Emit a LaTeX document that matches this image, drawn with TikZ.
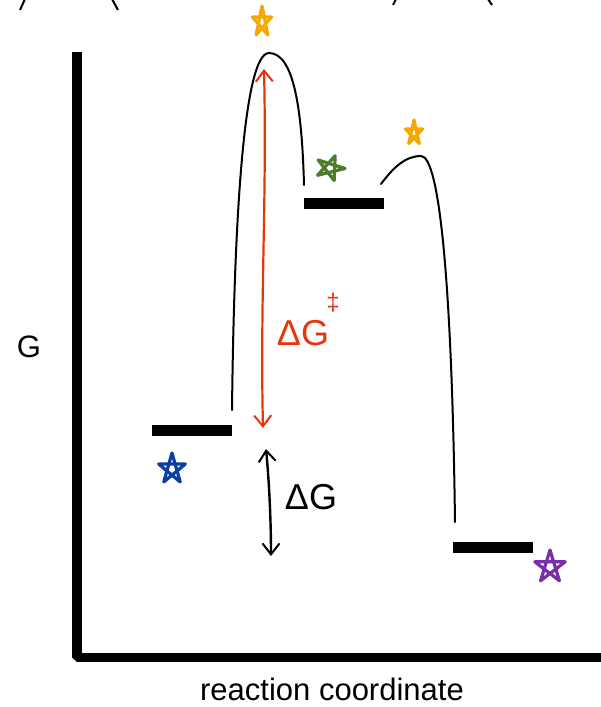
\documentclass[tikz,border=0pt]{standalone}
\usepackage{fontspec}
\setmainfont{Liberation Sans}
\usetikzlibrary{arrows.meta}
\definecolor{starorange}{HTML}{F6A800}
\definecolor{stargreen}{HTML}{4E7D2A}
\definecolor{starblue}{HTML}{0B3FA6}
\definecolor{starpurple}{HTML}{7A2FA8}
\definecolor{arrred}{HTML}{E8340C}
\tikzset{
  barb/.tip={Straight Barb[length=11pt, width=17pt, line width=2pt]},
  bar/.style={fill=black, draw=none, minimum width=80pt, minimum height=10.5pt, inner sep=0pt},
  curve/.style={line width=2pt, line cap=round},
  axis/.style={line width=9.5pt, line join=bevel},
  redarr/.style={draw=arrred, line width=2.2pt, line cap=round, barb-barb},
  blackarr/.style={draw=black, line width=2.4pt, line cap=round, barb-barb},
  hstar/.pic={\draw[line width=3.2pt, line join=round, line cap=round]
     (270:1) -- (54:1) -- (198:1) -- (342:1) -- (126:1) -- cycle;},
  lab/.style={inner sep=0pt, font=\fontsize{36}{40}\selectfont},
  axlab/.style={inner sep=0pt, font=\fontsize{31}{36}\selectfont},
  frag/.style={line width=2pt}
}
\begin{document}
\begin{tikzpicture}[x=1pt, y=-1pt]
\useasboundingbox (0,0) rectangle (601,707);
% fragments at top edge
\coordinate (f1a) at (20,10); \coordinate (f1b) at (25,-1);
\coordinate (f2a) at (112,-1); \coordinate (f2b) at (118,10);
\coordinate (f3a) at (393,5); \coordinate (f3b) at (396,-1);
\coordinate (f4a) at (488,-1); \coordinate (f4b) at (492,5);
\draw[frag] (f1a) -- (f1b);
\draw[frag] (f2a) -- (f2b);
\draw[frag] (f3a) -- (f3b);
\draw[frag] (f4a) -- (f4b);
% axes
\coordinate (ytop) at (77,52);
\coordinate (orig) at (77,657.5);
\coordinate (xend) at (605,657.5);
\draw[axis] (ytop) -- (orig) -- (xend);
\node[axlab] (G) at (29,347) {G};
\node[axlab] (rc) at (332,689) {reaction coordinate};
% levels
\node[bar] (A) at (192,430.5) {};
\node[bar] (I) at (344,203.5) {};
\node[bar] (P) at (493,547.5) {};
% energy curves
\coordinate (c1s) at (232,410);
\coordinate (c1p) at (269,53);
\coordinate (c1e) at (304,185);
\draw[curve] (c1s) .. controls (234,230) and (243,53) .. (c1p)
  .. controls (294,53) and (302,110) .. (c1e);
\coordinate (c2s) at (381,184);
\coordinate (c2p) at (421,156);
\coordinate (c2e) at (455,522);
\draw[curve] (c2s) .. controls (393,168) and (405,156) .. (c2p)
  .. controls (440,156) and (452,290) .. (c2e);
% red activation arrow
\coordinate (rt) at (264,69);
\coordinate (rb) at (263,428);
\draw[redarr] (rt) .. controls (267,200) and (260,300) .. (rb);
\node[lab, text=arrred] (dGa) at (303,333) {ΔG};
\node[inner sep=0pt, text=arrred, font=\fontsize{24}{28}\selectfont] (dd) at (333,303) {‡};
% black free energy arrow
\coordinate (bt) at (266,449);
\coordinate (bb) at (271,556);
\draw[blackarr] (bt) .. controls (269,480) and (271,520) .. (bb);
\node[lab] (dG) at (311,497) {ΔG};
% stars
\pic[starorange, xscale=10, yscale=16] at (262,22) {hstar};
\pic[stargreen, xscale=15, yscale=13, rotate=-20] at (330,168) {hstar};
\pic[starorange, xscale=9, yscale=13] at (414,133) {hstar};
\pic[starblue, xscale=14, yscale=16] at (172,469) {hstar};
\pic[starpurple, xscale=16, yscale=17] at (550,567) {hstar};
\end{tikzpicture}
\end{document}
